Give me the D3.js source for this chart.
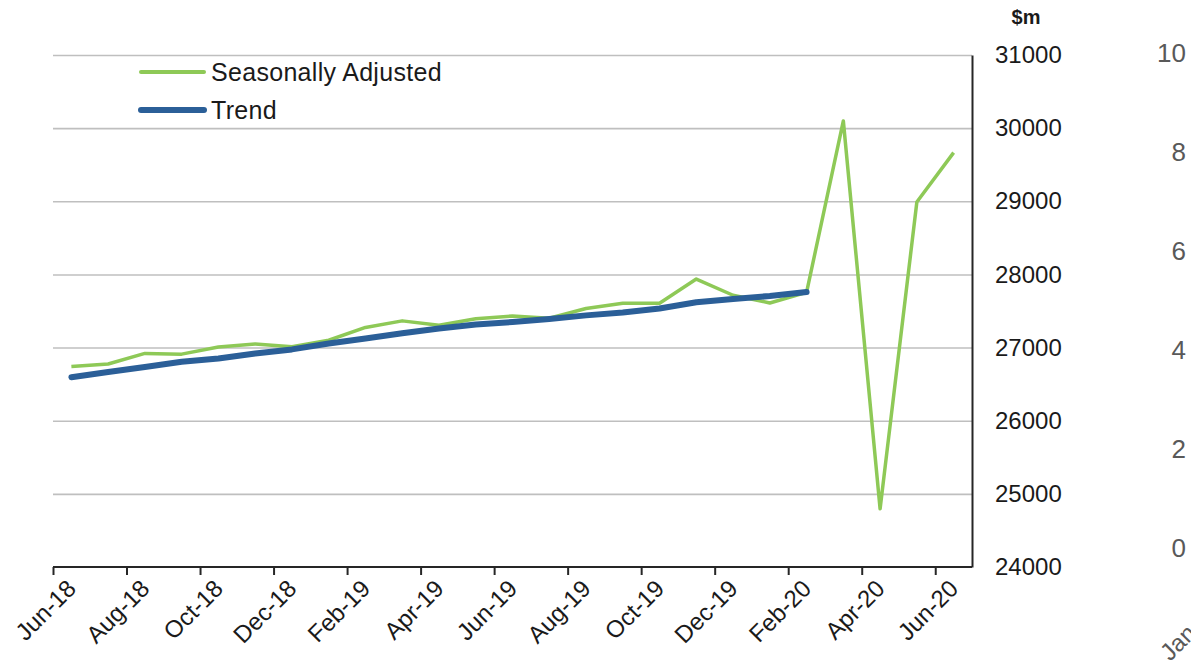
<!DOCTYPE html>
<html>
<head>
<meta charset="utf-8">
<script src="https://cdn.jsdelivr.net/npm/d3@7"></script>
<style>
  html, body { margin: 0; padding: 0; background: #ffffff; }
  svg { display: block; }
  text { font-family: "Liberation Sans", Arial, sans-serif; }
</style>
</head>
<body>
<svg id="chart" width="1191" height="662"></svg>
<script>
// Monthly categories, Jun-18 to Jun-20
const months = ["Jun-18","Jul-18","Aug-18","Sep-18","Oct-18","Nov-18","Dec-18",
  "Jan-19","Feb-19","Mar-19","Apr-19","May-19","Jun-19","Jul-19","Aug-19","Sep-19",
  "Oct-19","Nov-19","Dec-19","Jan-20","Feb-20","Mar-20","Apr-20","May-20","Jun-20"];

// Seasonally adjusted series ($m)
const seasonallyAdjusted = [26740, 26775, 26920, 26910, 27008, 27050, 27010, 27100,
  27275, 27365, 27305, 27395, 27432, 27400, 27535, 27605, 27605, 27937, 27715, 27610,
  27755, 30098, 24795, 28990, 29665];

// Trend series ($m), ends at Feb-20
const trend = [26595, 26665, 26735, 26805, 26850, 26920, 26975, 27055, 27125, 27195,
  27260, 27315, 27350, 27390, 27440, 27480, 27535, 27620, 27665, 27705, 27760];

// Value axis ticks
const yTicks = [24000, 25000, 26000, 27000, 28000, 29000, 30000, 31000];

// Neighbouring panel's axis ticks at the right edge
const sideTicks = [0, 2, 4, 6, 8, 10];
const sideCategory = ["Jan"];

const legendItems = [
  { name: "Seasonally Adjusted", color: "#8ec957", width: 3.5 },
  { name: "Trend", color: "#2b5f98", width: 6 }
];

const svg = d3.select("#chart");
const plotLeft = 53, plotRight = 972, plotTop = 55, plotBottom = 567;

// x: category edges (0..25); points sit at band centres
const xEdge = d3.scaleLinear().domain([0, months.length]).range([plotLeft, plotRight]);
const xMid = i => xEdge(i + 0.5);
const y = d3.scaleLinear().domain([24000, 31000]).range([plotBottom, plotTop]);

// Gridlines
const grid = svg.append("g")
  .attr("transform", `translate(${plotLeft},0)`)
  .call(d3.axisLeft(y).tickValues(yTicks.slice(1)).tickSize(-(plotRight - plotLeft)).tickFormat(""));
grid.select(".domain").remove();
grid.selectAll(".tick line").attr("stroke", "#bfbfbf").attr("stroke-width", 1.6);

// Right value axis
const yAxis = svg.append("g")
  .attr("transform", `translate(${plotRight},0)`)
  .call(d3.axisRight(y).tickValues(yTicks).tickSize(0).tickPadding(23).tickFormat(d3.format("d")));
yAxis.select(".domain").attr("stroke", "#262626").attr("stroke-width", 2);
yAxis.selectAll(".tick text")
  .attr("font-size", 24).attr("fill", "#1a1a1a")
  .attr("font-family", "Liberation Sans, Arial, sans-serif");

svg.append("text")
  .attr("x", 1026).attr("y", 19)
  .attr("text-anchor", "middle").attr("dominant-baseline", "middle")
  .attr("font-size", 20).attr("font-weight", "bold").attr("fill", "#1a1a1a")
  .text("$m");

// Bottom category axis, ticks every second month
const evenIdx = d3.range(0, months.length, 2);
const xAxis = svg.append("g")
  .attr("transform", `translate(0,${plotBottom})`)
  .call(d3.axisBottom(xEdge).tickValues(evenIdx).tickSize(8).tickFormat(i => months[i]));
xAxis.select(".domain").attr("stroke", "#262626").attr("stroke-width", 2)
  .attr("d", `M${plotLeft},0H${plotRight}`);
xAxis.selectAll(".tick line").attr("stroke", "#262626").attr("stroke-width", 2);
xAxis.selectAll(".tick text")
  .attr("font-size", 24).attr("fill", "#1a1a1a")
  .attr("font-family", "Liberation Sans, Arial, sans-serif")
  .attr("text-anchor", "end")
  .attr("dy", null).attr("y", null)
  .attr("transform", "translate(24,23) rotate(-45)");

// Series lines
const line = d3.line().x((d, i) => xMid(i)).y(d => y(d));
svg.append("path").datum(seasonallyAdjusted)
  .attr("d", line).attr("fill", "none")
  .attr("stroke", legendItems[0].color).attr("stroke-width", legendItems[0].width)
  .attr("stroke-linejoin", "round");
svg.append("path").datum(trend)
  .attr("d", line).attr("fill", "none")
  .attr("stroke", legendItems[1].color).attr("stroke-width", legendItems[1].width)
  .attr("stroke-linejoin", "round").attr("stroke-linecap", "round");

// Legend
const legend = svg.append("g");
legendItems.forEach((d, i) => {
  const ly = 72 + i * 38;
  legend.append("line")
    .attr("x1", 141).attr("x2", 204).attr("y1", ly).attr("y2", ly)
    .attr("stroke", d.color).attr("stroke-width", d.width + (i ? 0 : 0.5))
    .attr("stroke-linecap", "round");
  legend.append("text")
    .attr("x", 211).attr("y", ly + 2)
    .attr("dominant-baseline", "middle")
    .attr("font-size", 25).attr("letter-spacing", 0.3).attr("fill", "#1a1a1a")
    .text(d.name);
});

// Neighbouring panel's axis labels (clipped by the page edge)
const ySide = d3.scaleLinear().domain([0, 10]).range([550, 55]);
svg.append("g").selectAll("text").data(sideTicks).join("text")
  .attr("x", 1186).attr("y", d => ySide(d))
  .attr("text-anchor", "end").attr("dominant-baseline", "middle")
  .attr("font-family", "Open Sans, sans-serif")
  .attr("font-size", 26).attr("fill", "#595959")
  .text(d => d);
svg.append("g").selectAll("text").data(sideCategory).join("text")
  .attr("transform", "translate(1170,662) rotate(-45)")
  .attr("font-family", "Open Sans, sans-serif")
  .attr("font-size", 24).attr("fill", "#595959")
  .text(d => d);
</script>
</body>
</html>
